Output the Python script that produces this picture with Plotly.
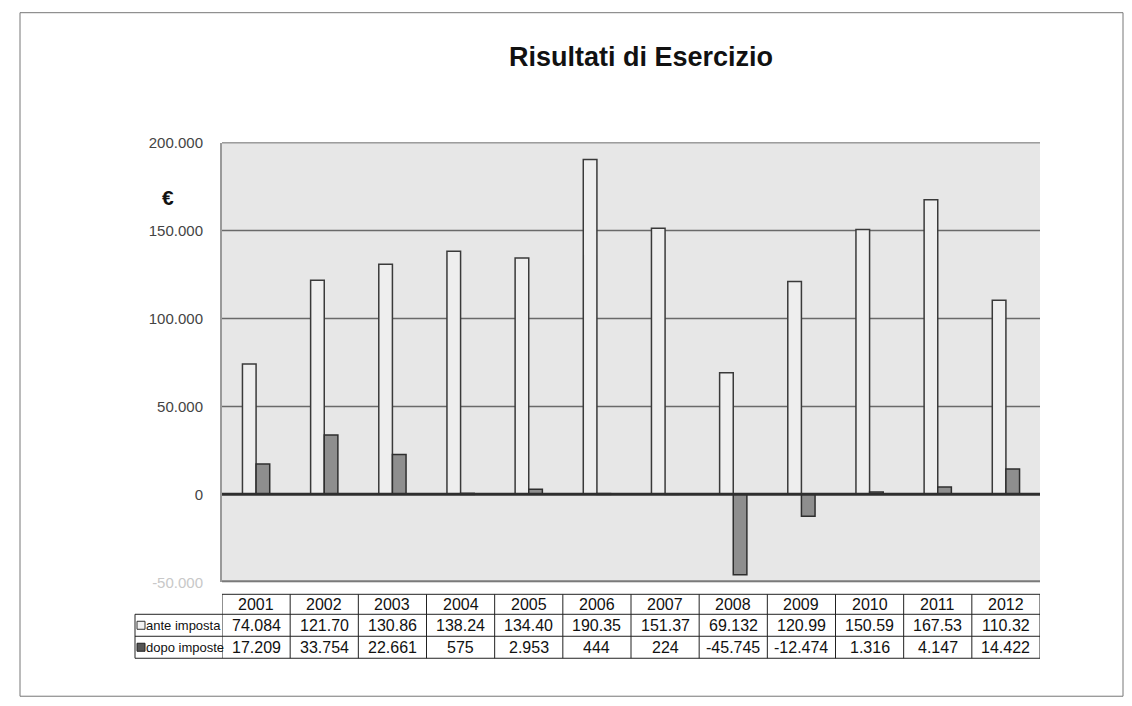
import plotly.graph_objects as go

years = ["2001", "2002", "2003", "2004", "2005", "2006", "2007", "2008", "2009", "2010", "2011", "2012"]
ante_imposta = [74084, 121700, 130860, 138240, 134400, 190350, 151370, 69132, 120990, 150590, 167530, 110320]
dopo_imposte = [17209, 33754, 22661, 575, 2953, 444, 224, -45745, -12474, 1316, 4147, 14422]
ante_labels = ["74.084", "121.70", "130.86", "138.24", "134.40", "190.35", "151.37", "69.132", "120.99", "150.59", "167.53", "110.32"]
dopo_labels = ["17.209", "33.754", "22.661", "575", "2.953", "444", "224", "-45.745", "-12.474", "1.316", "4.147", "14.422"]
tick_vals = [-50000, 0, 50000, 100000, 150000, 200000]
tick_text = ['<span style="color:#c8c8c8">-50.000</span>', "0", "50.000", "100.000", "150.000", "200.000"]

W, H = 1116, 706
def px(x): return (x - 8) / W
def py(y): return 1 - ((y - 16.3) / 0.9766) / H

XL, XR = 222, 1040

fig = go.Figure()
fig.add_trace(go.Bar(name="ante imposta", x=years, y=ante_imposta,
                     marker=dict(color="#eeeeee", line=dict(color="#3a3a3a", width=1.5))))
fig.add_trace(go.Bar(name="dopo imposte", x=years, y=dopo_imposte,
                     marker=dict(color="#8e8e8e", line=dict(color="#2e2e2e", width=1.5))))

shapes = []
annotations = []

# outer frame
shapes.append(dict(type="rect", xref="paper", yref="paper", x0=px(20), x1=px(1123), y0=py(696), y1=py(12),
                   line=dict(color="#777", width=1)))
# horizontal grid + bottom line
for v, c, w in [(50000, "#6a6a6a", 1.5), (100000, "#6a6a6a", 1.5), (150000, "#6a6a6a", 1.5),
                (-50000, "#7a7a7a", 4), (200000, "#444", 1.5)]:
    shapes.append(dict(type="line", xref="paper", yref="y", x0=px(XL), x1=px(XR), y0=v, y1=v,
                       line=dict(color=c, width=w), layer="below"))
shapes.append(dict(type="line", xref="paper", yref="y", x0=px(XL), x1=px(XR), y0=0, y1=0,
                   line=dict(color="#2e2e2e", width=3), layer="above"))

# table
y_top, y_r1, y_r2, y_bot = 594, 614, 636, 658
n = len(years)
for i in range(n + 1):
    shapes.append(dict(type="line", xref="x", yref="paper", x0=i - 0.5, x1=i - 0.5,
                       y0=py(y_bot), y1=py(y_top), line=dict(color="#222", width=1)))
for yy, xs in [(y_top, XL), (y_r1, 135), (y_r2, 135), (y_bot, 135)]:
    shapes.append(dict(type="line", xref="paper", yref="paper", x0=px(xs), x1=px(XR),
                       y0=py(yy), y1=py(yy), line=dict(color="#222", width=1)))
shapes.append(dict(type="line", xref="paper", yref="paper", x0=px(135), x1=px(135),
                   y0=py(y_bot), y1=py(y_r1), line=dict(color="#222", width=1)))
# legend keys
shapes.append(dict(type="rect", xref="paper", yref="paper", x0=px(137), x1=px(145), y0=py(629), y1=py(621),
                   line=dict(color="#333", width=1), fillcolor="#f2f2f2"))
shapes.append(dict(type="rect", xref="paper", yref="paper", x0=px(137), x1=px(145), y0=py(651), y1=py(643),
                   line=dict(color="#222", width=1), fillcolor="#555"))

tf = dict(family="Liberation Sans, Arial, sans-serif", size=16, color="#111")
lf = dict(family="Liberation Sans, Arial, sans-serif", size=13, color="#111")
for i, yr in enumerate(years):
    annotations.append(dict(x=i, y=py((y_top + y_r1) / 2), xref="x", yref="paper", text=yr,
                            showarrow=False, font=tf, yanchor="middle"))
    annotations.append(dict(x=i, y=py((y_r1 + y_r2) / 2), xref="x", yref="paper", text=ante_labels[i],
                            showarrow=False, font=tf, yanchor="middle"))
    annotations.append(dict(x=i, y=py((y_r2 + y_bot) / 2), xref="x", yref="paper", text=dopo_labels[i],
                            showarrow=False, font=tf, yanchor="middle"))
annotations.append(dict(x=px(146), y=py((y_r1 + y_r2) / 2), xref="paper", yref="paper", text="ante imposta",
                        showarrow=False, font=lf, xanchor="left", yanchor="middle", xshift=-2))
annotations.append(dict(x=px(146), y=py((y_r2 + y_bot) / 2), xref="paper", yref="paper", text="dopo imposte",
                        showarrow=False, font=lf, xanchor="left", yanchor="middle", xshift=-2))
annotations.append(dict(x=px(160), y=py(183), xref="paper", yref="paper", text="<b>€</b>",
                        showarrow=False, font=dict(family="Liberation Sans, Arial", size=21, color="#111")))

fig.update_layout(
    width=W, height=H, autosize=False,
    margin=dict(l=0, r=0, t=0, b=0),
    paper_bgcolor="white", plot_bgcolor="#e7e7e7",
    showlegend=False,
    barmode="group", bargap=0.6, bargroupgap=0,
    title=dict(text="<b>Risultati di Esercizio</b>", x=px(641), xanchor="center", y=py(64), yanchor="middle",
               font=dict(family="Liberation Sans, Arial, sans-serif", size=27, color="#111")),
    xaxis=dict(type="category", domain=[px(XL), px(XR)], range=[-0.5, len(years) - 0.5],
               showticklabels=False, showgrid=False, zeroline=False, showline=False, ticks=""),
    yaxis=dict(domain=[py(582), py(142)], range=[-50000, 200000], tickvals=tick_vals, ticktext=tick_text,
               showgrid=False, zeroline=False, showline=True, linecolor="#9a9a9a", linewidth=2,
               ticks="", ticklabelstandoff=14,
               tickfont=dict(family="Liberation Sans, Arial, sans-serif", size=15, color="#444")),
    shapes=shapes, annotations=annotations,
)
fig.write_html("out.html")
